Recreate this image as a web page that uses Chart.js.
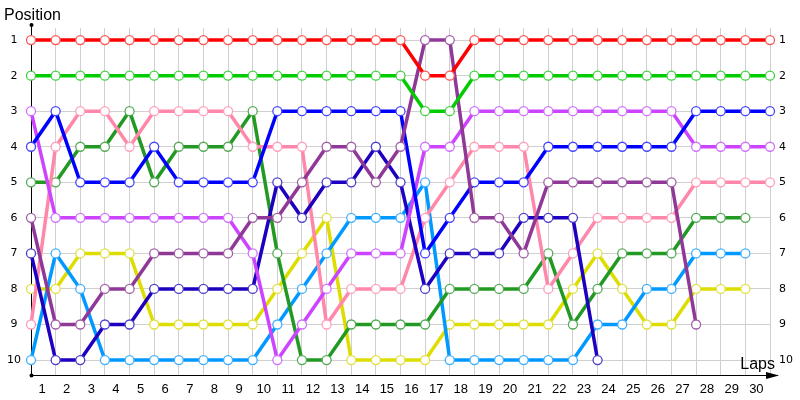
<!DOCTYPE html>
<html>
<head>
<meta charset="utf-8">
<script src="https://cdn.jsdelivr.net/npm/chart.js@4.4.1/dist/chart.umd.min.js"></script>
<style>
  body { margin: 0; background: #fff; }
  #wrap { width: 800px; height: 400px; }
</style>
</head>
<body>
<div id="wrap"><canvas id="myChart" width="800" height="400"></canvas></div>
<script>
// laps on the x axis
const laps = [0, 1, 2, 3, 4, 5, 6, 7, 8, 9, 10, 11, 12, 13, 14, 15, 16, 17, 18, 19, 20, 21, 22, 23, 24, 25, 26, 27, 28, 29, 30];
const positions = [1, 2, 3, 4, 5, 6, 7, 8, 9, 10];

// position of each car per lap (shorter arrays = retired)
const redCar     = [1, 1, 1, 1, 1, 1, 1, 1, 1, 1, 1, 1, 1, 1, 1, 1, 2, 2, 1, 1, 1, 1, 1, 1, 1, 1, 1, 1, 1, 1, 1];
const greenCar   = [2, 2, 2, 2, 2, 2, 2, 2, 2, 2, 2, 2, 2, 2, 2, 2, 3, 3, 2, 2, 2, 2, 2, 2, 2, 2, 2, 2, 2, 2, 2];
const violetCar  = [3, 6, 6, 6, 6, 6, 6, 6, 6, 7, 10, 9, 8, 7, 7, 7, 4, 4, 3, 3, 3, 3, 3, 3, 3, 3, 3, 4, 4, 4, 4];
const blueCar    = [4, 3, 5, 5, 5, 4, 5, 5, 5, 5, 3, 3, 3, 3, 3, 3, 7, 6, 5, 5, 5, 4, 4, 4, 4, 4, 4, 3, 3, 3, 3];
const darkGreen  = [5, 5, 4, 4, 3, 5, 4, 4, 4, 3, 7, 10, 10, 9, 9, 9, 9, 8, 8, 8, 8, 7, 9, 8, 7, 7, 7, 6, 6, 6];
const purpleCar  = [6, 9, 9, 8, 8, 7, 7, 7, 7, 6, 6, 5, 4, 4, 5, 4, 1, 1, 6, 6, 7, 5, 5, 5, 5, 5, 5, 9];
const navyCar    = [7, 10, 10, 9, 9, 8, 8, 8, 8, 8, 5, 6, 5, 5, 4, 5, 8, 7, 7, 7, 6, 6, 6, 10];
const yellowCar  = [8, 8, 7, 7, 7, 9, 9, 9, 9, 9, 8, 7, 6, 10, 10, 10, 10, 9, 9, 9, 9, 9, 8, 7, 8, 9, 9, 8, 8, 8];
const pinkCar    = [9, 4, 3, 3, 4, 3, 3, 3, 3, 4, 4, 4, 9, 8, 8, 8, 6, 5, 4, 4, 4, 8, 7, 6, 6, 6, 6, 5, 5, 5, 5];
const skyCar     = [10, 7, 8, 10, 10, 10, 10, 10, 10, 10, 9, 8, 7, 6, 6, 6, 5, 10, 10, 10, 10, 10, 10, 9, 9, 8, 8, 7, 7, 7];

function toPoints(arr) {
  return arr.map((p, i) => ({ x: laps[i], y: p }));
}

function carLine(values, color, pointColor) {
  return {
    data: toPoints(values),
    borderColor: color,
    borderWidth: 3.5,
    pointRadius: 4.5,
    pointHoverRadius: 4.5,
    pointBackgroundColor: '#ffffff',
    pointBorderColor: pointColor,
    pointBorderWidth: 1.3,
    tension: 0,
    clip: false
  };
}

// axis titles and arrows
const axisDecor = {
  id: 'axisDecor',
  afterDraw(chart) {
    const ctx = chart.ctx;
    const a = chart.chartArea;
    ctx.save();
    ctx.fillStyle = '#000';
    ctx.strokeStyle = '#000';
    ctx.font = '16px "Liberation Sans", Arial, sans-serif';
    ctx.textBaseline = 'alphabetic';
    ctx.textAlign = 'left';
    ctx.fillText('Position', 4, 20);
    ctx.textAlign = 'right';
    ctx.fillText('Laps', 775, 369);
    // y axis top
    ctx.lineWidth = 1;
    ctx.beginPath();
    ctx.moveTo(a.left + 0.5, a.top);
    ctx.lineTo(a.left + 0.5, 25);
    ctx.stroke();
    ctx.beginPath();
    ctx.arc(a.left + 0.5, 25, 2, 0, Math.PI * 2);
    ctx.fill();
    // x axis arrow
    ctx.beginPath();
    ctx.moveTo(a.right, a.bottom + 0.5);
    ctx.lineTo(778, a.bottom + 0.5);
    ctx.stroke();
    ctx.beginPath();
    ctx.moveTo(779, a.bottom + 0.5);
    ctx.lineTo(766, a.bottom - 3);
    ctx.lineTo(766, a.bottom + 4);
    ctx.closePath();
    ctx.fill();
    ctx.beginPath();
    ctx.arc(a.left + 0.5, a.bottom + 0.5, 2, 0, Math.PI * 2);
    ctx.fill();
    ctx.restore();
  }
};

const lapChart = new Chart(document.getElementById('myChart'), {
  type: 'line',
  data: {
    datasets: [
      carLine(redCar, '#ff0000', '#ff5555'),
      carLine(greenCar, '#00cc00', '#44d044'),
      carLine(purpleCar, '#903898', '#a060a8'),
      carLine(blueCar, '#0000ff', '#4444ff'),
      carLine(violetCar, '#cc44ff', '#d070ff'),
      carLine(navyCar, '#1e00c0', '#4a40cc'),
      carLine(pinkCar, '#ff88aa', '#ff9fbb'),
      carLine(darkGreen, '#229922', '#55aa55'),
      carLine(skyCar, '#0099ff', '#40b0ff'),
      carLine(yellowCar, '#dddd00', '#e0e040')
    ]
  },
  options: {
    responsive: false,
    animation: false,
    layout: { padding: { top: 28, left: 0, right: 0, bottom: 0 } },
    plugins: {
      legend: { display: false },
      tooltip: { enabled: false }
    },
    scales: {
      x: {
        type: 'linear',
        min: 0,
        max: 30,
        position: 'bottom',
        afterBuildTicks: (scale) => { scale.ticks = laps.map(v => ({ value: v })); },
        afterFit: (scale) => { scale.height = 25; },
        grid: { color: '#d0d0d0', drawTicks: false },
        border: { color: '#000', width: 1 },
        ticks: {
          autoSkip: false,
          maxRotation: 0,
          labelOffset: 11,
          padding: 7,
          color: '#000',
          font: { family: '"Liberation Sans", Arial, sans-serif', size: 13 },
          callback: (v) => (v < 30 ? String(v + 1) : '')
        }
      },
      y: {
        type: 'linear',
        reverse: true,
        min: 0.66,
        max: 10.42,
        position: 'left',
        afterBuildTicks: (scale) => { scale.ticks = positions.map(v => ({ value: v })); },
        afterFit: (scale) => { scale.width = 31; },
        grid: { color: '#d0d0d0', drawTicks: false },
        border: { color: '#000', width: 1 },
        ticks: {
          crossAlign: 'center',
          padding: 10,
          color: '#000',
          font: { family: '"DejaVu Sans", sans-serif', size: 11 }
        }
      },
      y2: {
        type: 'linear',
        reverse: true,
        min: 0.66,
        max: 10.42,
        position: 'right',
        afterBuildTicks: (scale) => { scale.ticks = positions.map(v => ({ value: v })); },
        afterFit: (scale) => { scale.width = 30; },
        grid: { display: false, drawTicks: false },
        border: { display: false },
        ticks: {
          padding: 9,
          color: '#000',
          font: { family: '"DejaVu Sans", sans-serif', size: 11 }
        }
      }
    }
  },
  plugins: [axisDecor]
});
</script>
</body>
</html>
